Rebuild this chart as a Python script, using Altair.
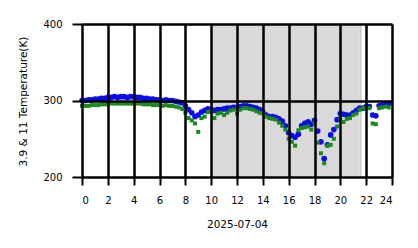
import altair as alt
import pandas as pd

# time of day (hours) for the regular samples, every 15 minutes
hours = [i * 0.25 for i in range(96)]

# 3.9 um brightness temperature (K)
t39 = [300, 300, 301, 301, 302, 302, 303, 303, 304, 304, 305, 304,
       305, 305, 304, 305, 305, 304, 304, 303, 303, 302, 302, 301,
       301, 300, 301, 300, 300, 299, 298, 297, 293, 288, 284, 279,
       281, 285, 287, 289, 288, 287, 288, 288, 289, 290, 290, 291,
       291, 292, 293, 293, 292, 291, 290, 288, 285, 281, 279, 279,
       278, 276, 273, 267, 258, 254, 252, 256, 267, 270, 272, 269,
       274, 260, 246, 224, 242, 255, 262, 275, 283, 282, 281, 281,
       284, 287, 290, 290, 292, 292, 281, 280, 293, 294, 295, 296]

# 11 um brightness temperature (K)
t11 = [293, 293, 293, 294, 294, 294, 295, 295, 295, 296, 296, 296,
       296, 296, 296, 296, 296, 296, 296, 295, 295, 295, 294, 294,
       294, 293, 294, 293, 293, 292, 291, 289, 284, 277, 274, 270,
       259, 277, 279, 285, 286, 277, 283, 284, 281, 284, 287, 288,
       283, 288, 290, 290, 289, 288, 286, 284, 283, 279, 277, 276,
       275, 271, 267, 262, 250, 246, 241, 261, 264, 265, 266, 262,
       270, 245, 231, 218, 241, 242, 250, 266, 277, 272, 276, 277,
       281, 283, 288, 290, 290, 290, 270, 269, 290, 291, 292, 291]

# night shading intervals (hours)
band_start = [10.0, 21.5]
band_end = [21.5, 21.65]
band_color = ["#d9d9d9", "#cdcdcd"]

x_ticks = list(range(0, 25, 2))
y_ticks = [200, 300, 400]

df39 = pd.DataFrame({"hour": hours, "temp": t39})
df11 = pd.DataFrame({"hour": hours, "temp": t11})
dfb = pd.DataFrame({"start": band_start, "end": band_end, "col": band_color})

FONT = "DejaVu Sans"

xscale = alt.Scale(domain=[0, 24], nice=False, zero=False)
yscale = alt.Scale(domain=[200, 400], nice=False, zero=False)

xaxis = alt.Axis(values=x_ticks, format="d", title="2025-07-04",
                 grid=True, gridColor="black", gridWidth=2.5, gridOpacity=1,
                 domain=False, tickColor="black", tickWidth=2, tickSize=8,
                 labelFont=FONT, labelFontSize=10, labelColor="black",
                 labelPadding=10, titleFont=FONT, titleFontSize=10.5,
                 titleFontWeight="normal", titleColor="black",
                 titleY=47, titleBaseline="middle", zindex=1)
yaxis = alt.Axis(values=y_ticks, format="d", title="3.9 & 11 Temperature(K)",
                 grid=True, gridColor="black", gridWidth=2.5, gridOpacity=1,
                 domain=False, tickColor="black", tickWidth=2, tickSize=10,
                 labelFont=FONT, labelFontSize=10, labelColor="black",
                 labelPadding=10, titleFont=FONT, titleFontSize=10.5,
                 titleFontWeight="normal", titleColor="black",
                 titleX=-59, titleY=77, titleAngle=-90, titleAlign="center",
                 titleBaseline="middle", zindex=1)

band = alt.Chart(dfb).mark_rect().encode(
    x=alt.X("start:Q", scale=xscale, axis=xaxis),
    x2="end:Q",
    color=alt.Color("col:N", scale=None),
)

blue = alt.Chart(df39).mark_point(filled=True, shape="circle", size=32,
                                  color="#0a0af5", opacity=1).encode(
    x=alt.X("hour:Q", scale=xscale, axis=xaxis),
    y=alt.Y("temp:Q", scale=yscale, axis=yaxis),
)

green = alt.Chart(df11).mark_point(filled=True, shape="square", size=16,
                                   color="#1a8a1a", opacity=1).encode(
    x=alt.X("hour:Q", scale=xscale, axis=xaxis),
    y=alt.Y("temp:Q", scale=yscale, axis=yaxis),
)

chart = alt.layer(band, blue, green).properties(
    width=310, height=153,
    autosize=alt.AutoSizeParams(type="none"),
    padding={"left": 82, "top": 24, "right": 26, "bottom": 71},
).configure_view(stroke="#cccccc", strokeWidth=1).configure(background="white")

chart.save("out.html", embed_options={"renderer": "svg", "actions": False})
